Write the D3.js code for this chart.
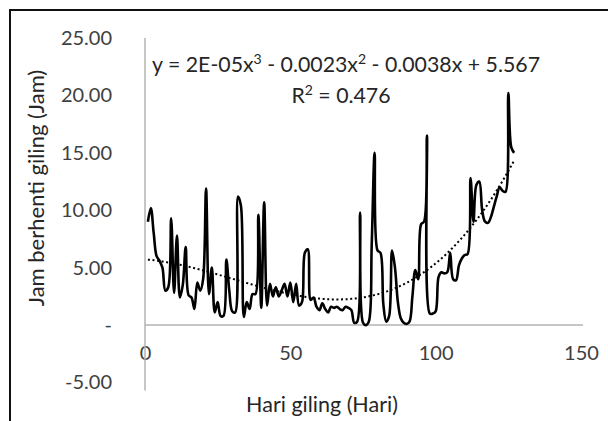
<!DOCTYPE html>
<html>
<head>
<meta charset="utf-8">
<script src="https://cdn.jsdelivr.net/npm/d3@7"></script>
<style>
  html, body { margin: 0; padding: 0; background: #fff; }
  svg { display: block; font-family: Lato, "Open Sans", sans-serif; }
</style>
</head>
<body>
<svg id="chart" width="608" height="421"></svg>
<script>
// Jam berhenti giling per hari giling
const hours = [
  9.0, 10.2, 8.0, 6.0, 5.6, 5.0, 3.0, 3.3, 9.3, 2.8,
  7.8, 2.4, 3.5, 6.8, 2.6, 2.4, 1.4, 3.7, 3.0, 4.0,
  11.9, 2.7, 5.0, 1.1, 2.0, 0.8, 0.8, 5.7, 3.0, 1.2,
  1.1, 11.2, 10.4, 0.7, 2.0, 1.4, 2.7, 2.7, 9.6, 1.5,
  10.7, 1.7, 3.6, 2.5, 3.3, 2.5, 3.0, 3.6, 2.5, 3.7,
  2.0, 3.6, 1.7, 2.0, 6.3, 6.6, 2.2, 2.4, 1.6, 1.3,
  1.9, 1.4, 1.1, 1.6, 1.5, 1.6, 1.4, 1.3, 1.6, 1.5,
  1.3, 0.2, 0.3, 9.8, 0.2, 0.0, 0.3, 7.0, 15.0, 6.5,
  6.3, 1.8, 0.3, 0.8, 6.5, 5.0, 2.0, 0.6, 0.2, 0.1,
  0.3, 2.5, 4.8, 4.0, 8.8, 9.0, 16.5, 1.0, 1.0, 1.2,
  4.2, 4.6, 4.5, 4.6, 6.3, 4.0, 3.9, 5.2, 5.8, 6.1,
  6.2, 12.8, 9.0, 12.2, 12.5, 10.0, 9.0, 8.9, 9.4, 10.3,
  11.2, 12.0, 11.7, 11.6, 20.2, 15.5, 15.0
];
const days = hours.map((_, i) => i + 1);
const xTicks = [0, 50, 100, 150];
const yTicks = [-5, 0, 5, 10, 15, 20, 25];
const yTickLabels = ["-5.00", "-", "5.00", "10.00", "15.00", "20.00", "25.00"];
const xTitle = "Hari giling (Hari)";
const yTitle = "Jam berhenti giling (Jam)";

const svg = d3.select("#chart");
svg.append("rect").attr("width", 608).attr("height", 421).attr("fill", "#fff");

// outer frame (top and left visible)
svg.append("path")
  .attr("d", "M10,421V10H608")
  .attr("fill", "none").attr("stroke", "#111").attr("stroke-width", 2);

const x = d3.scaleLinear().domain([0, 150]).range([145, 581]);
const y = d3.scaleLinear().domain([-5, 25]).range([382.5, 38]);

// x axis (at y = 0)
const xAxis = svg.append("g")
  .attr("transform", `translate(0,${y(0)})`)
  .call(d3.axisBottom(x).tickValues(xTicks).tickSize(0).tickPadding(21).tickFormat(d3.format("d")));
xAxis.select(".domain").attr("stroke", "#b3b3b3").attr("stroke-width", 1.5).attr("d", `M${x(0)},0H${x(150) + 2}`);
xAxis.selectAll("text").attr("font-size", 20).attr("fill", "#404040").attr("font-family", "Lato, sans-serif");

// y axis
const yAxis = svg.append("g")
  .attr("transform", `translate(${x(0)},0)`)
  .call(d3.axisLeft(y).tickValues(yTicks).tickSize(0).tickPadding(33)
    .tickFormat(d => yTickLabels[yTicks.indexOf(d)]));
yAxis.select(".domain").attr("stroke", "#b3b3b3").attr("stroke-width", 1.5).attr("d", `M0,${y(25)}V${y(-5) + 8}`);
yAxis.selectAll("text").attr("font-size", 20).attr("fill", "#404040").attr("font-family", "Lato, sans-serif");

// data line
const pts = days.map((d, i) => [d, hours[i]]);
svg.append("path")
  .datum(pts)
  .attr("fill", "none")
  .attr("stroke", "#000")
  .attr("stroke-width", 2.6)
  .attr("stroke-linejoin", "round")
  .attr("d", d3.line().x(d => x(d[0])).y(d => y(d[1])).curve(d3.curveCatmullRom.alpha(0.5)));

// cubic least-squares trendline computed from the data (normalised variable)
const mid = d3.mean(days), half = (d3.max(days) - d3.min(days)) / 2;
function polyfit(xs, ys, deg) {
  const n = deg + 1;
  const A = [];
  for (let i = 0; i < n; i++) { A.push([]); for (let j = 0; j <= n; j++) A[i].push(0); }
  for (let k = 0; k < xs.length; k++) {
    const u = (xs[k] - mid) / half;
    for (let i = 0; i < n; i++) {
      for (let j = 0; j < n; j++) A[i][j] += Math.pow(u, i + j);
      A[i][n] += ys[k] * Math.pow(u, i);
    }
  }
  for (let c = 0; c < n; c++) {
    let p = c;
    for (let r = c + 1; r < n; r++) { if (Math.abs(A[r][c]) > Math.abs(A[p][c])) p = r; }
    const tmp = A[c]; A[c] = A[p]; A[p] = tmp;
    for (let r = 0; r < n; r++) {
      if (r === c) continue;
      const f = A[r][c] / A[c][c];
      for (let k = c; k <= n; k++) A[r][k] -= f * A[c][k];
    }
  }
  const out = [];
  for (let i = 0; i < n; i++) out.push(A[i][n] / A[i][i]);
  return out;
}
const coef = polyfit(days, hours, 3);
function trend(t) {
  const u = (t - mid) / half;
  return coef[0] + coef[1] * u + coef[2] * u * u + coef[3] * u * u * u;
}
const trendPts = [];
for (let t = days[0]; t <= days[days.length - 1] + 1e-6; t += 0.5) trendPts.push([t, trend(t)]);
svg.append("path")
  .attr("fill", "none")
  .attr("stroke", "#000")
  .attr("stroke-width", 2)
  .attr("stroke-dasharray", "2,2.6")
  .attr("d", d3.line().x(d => x(d[0])).y(d => y(d[1]))(trendPts));

// equation labels
const eq = svg.append("text").attr("x", 346).attr("y", 72).attr("text-anchor", "middle")
  .attr("font-size", 21.3).attr("fill", "#262626");
eq.append("tspan").text("y = 2E-05x");
eq.append("tspan").text("3").attr("font-size", 14).attr("dy", -8);
eq.append("tspan").text(" - 0.0023x").attr("dy", 8);
eq.append("tspan").text("2").attr("font-size", 14).attr("dy", -8);
eq.append("tspan").text(" - 0.0038x + 5.567").attr("dy", 8);

const r2 = svg.append("text").attr("x", 341).attr("y", 103).attr("text-anchor", "middle")
  .attr("font-size", 21.3).attr("fill", "#262626");
r2.append("tspan").text("R");
r2.append("tspan").text("2").attr("font-size", 14).attr("dy", -8);
r2.append("tspan").text(" = 0.476").attr("dy", 8);

// axis titles
svg.append("text").attr("x", 322).attr("y", 412).attr("text-anchor", "middle")
  .attr("font-size", 21.5).attr("fill", "#262626").text(xTitle);
svg.append("text").attr("transform", "translate(44,188) rotate(-90)").attr("text-anchor", "middle")
  .attr("font-size", 22).attr("fill", "#262626").text(yTitle);
</script>
</body>
</html>
